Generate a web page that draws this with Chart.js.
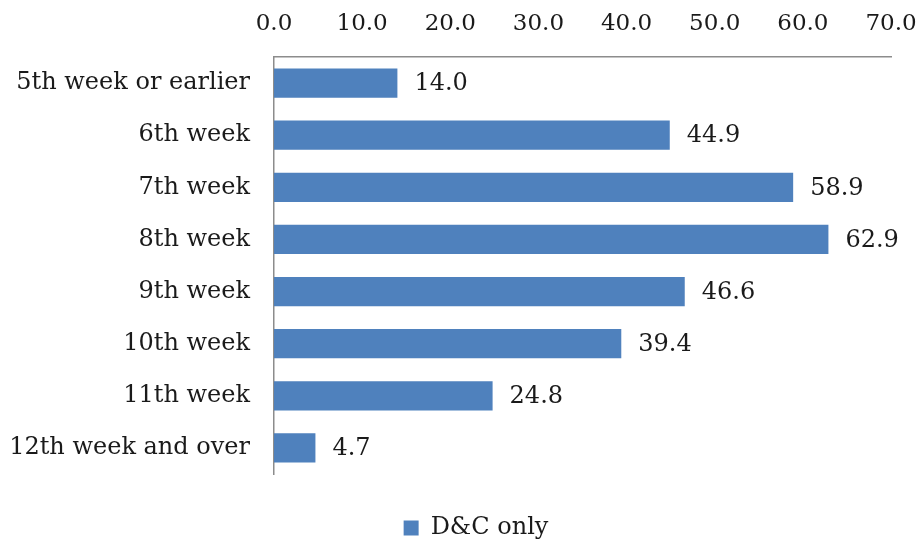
<!DOCTYPE html>
<html>
<head>
<meta charset="utf-8">
<script src="https://cdn.jsdelivr.net/npm/chart.js@4"></script>
<style>
  html, body { margin: 0; padding: 0; background: #fff; }
  #wrap { width: 918px; height: 540px; position: relative; }
</style>
</head>
<body>
<div id="wrap"><canvas id="grafico"></canvas></div>
<script>
// datos del gráfico
const categorias = ['5th week or earlier', '6th week', '7th week', '8th week', '9th week', '10th week', '11th week', '12th week and over'];
const valores = [14.0, 44.9, 58.9, 62.9, 46.6, 39.4, 24.8, 4.7];
const nombreSerie = 'D&C only';
const ejeMin = 0, ejeMax = 70, ejePaso = 10;

const fuente = { family: 'DejaVu Serif', size: 24 };
const fuenteEje = { family: 'DejaVu Serif', size: 23 };
const colorTexto = '#1a1a1a';
const colorBarra = '#4F81BD';

// etiquetas de valor al final de cada barra
const etiquetasValor = {
    id: 'etiquetasValor',
    afterDatasetsDraw(chart) {
        const ctx = chart.ctx;
        const meta = chart.getDatasetMeta(0);
        ctx.save();
        ctx.font = `${fuente.size}px "${fuente.family}"`;
        ctx.fillStyle = colorTexto;
        ctx.textAlign = 'left';
        ctx.textBaseline = 'middle';
        meta.data.forEach((barra, i) => {
            ctx.fillText(valores[i].toFixed(1), barra.x + 17, barra.y + 1);
        });
        ctx.restore();
    }
};

// la leyenda sin el hueco extra de abajo y un poco a la derecha
const ajusteLeyenda = {
    id: 'ajusteLeyenda',
    beforeInit(chart) {
        if (!chart.legend) return;
        const fitOriginal = chart.legend.fit;
        chart.legend.fit = function() {
            fitOriginal.bind(chart.legend)();
            this.height -= 10;
        };
    },
    afterLayout(chart) {
        if (!chart.legend) return;
        chart.legend.left += 17;
        chart.legend.right += 17;
    }
};

new Chart(document.getElementById('grafico'), {
    type: 'bar',
    data: {
        labels: categorias,
        datasets: [{
            label: nombreSerie,
            data: valores,
            backgroundColor: colorBarra,
            borderWidth: 0,
            categoryPercentage: 1.0,
            barPercentage: 0.56
        }]
    },
    options: {
        indexAxis: 'y',
        responsive: true,
        maintainAspectRatio: false,
        animation: false,
        layout: { padding: 0 },
        scales: {
            x: {
                position: 'top',
                min: ejeMin, max: ejeMax,
                afterFit: escala => {
                    escala.height = 57;
                    escala.paddingLeft = 0;
                    escala.paddingRight = 27;
                },
                ticks: {
                    stepSize: ejePaso,
                    color: colorTexto,
                    font: fuenteEje,
                    padding: 19,
                    callback: v => Number(v).toFixed(1)
                },
                grid: { display: false, drawTicks: false },
                border: { display: true, color: '#8c8c8c', width: 1.5 }
            },
            y: {
                afterFit: escala => { escala.width = 274; },
                ticks: { color: colorTexto, font: fuente, padding: 24 },
                grid: { display: false, drawTicks: false },
                border: { display: true, color: '#8c8c8c', width: 1.5 }
            }
        },
        plugins: {
            legend: {
                position: 'bottom',
                labels: {
                    color: colorTexto,
                    font: fuente,
                    boxWidth: 15,
                    boxHeight: 15,
                    padding: 42,
                    useBorderRadius: false
                }
            },
            tooltip: { enabled: false }
        }
    },
    plugins: [etiquetasValor, ajusteLeyenda]
});
</script>
</body>
</html>
